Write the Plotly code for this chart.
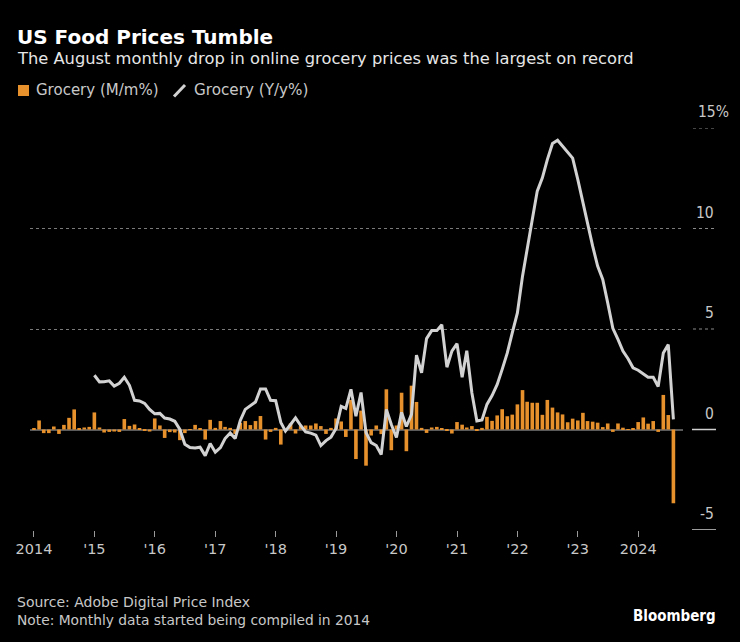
import pandas as pd
import plotly.graph_objects as go

# ---------------- data ----------------
mom_2014 = [0.05, 0.45, -0.18, -0.18, 0.15, -0.22, 0.23, 0.58, 1.0, 0.03, 0.1, 0.13]
mom_2015 = [0.85, 0.1, -0.15, -0.12, -0.1, -0.12, 0.52, 0.18, 0.25, 0.03, -0.07, -0.1]
mom_2016 = [0.55, 0.2, -0.42, -0.13, -0.15, -0.53, -0.18, 0.02, 0.23, 0.06, -0.5, 0.48]
mom_2017 = [0.08, 0.42, 0.13, 0.08, -0.22, 0.33, 0.42, 0.22, 0.42, 0.67, -0.5, -0.12]
mom_2018 = [0.08, -0.75, 0.02, 0.3, -0.2, 0.17, 0.2, 0.2, 0.3, 0.17, -0.22, 0.08]
mom_2019 = [0.55, 0.4, -0.37, 1.47, -1.47, 0.94, -1.8, -0.3, 0.2, -0.23, 2.0, -1.03]
mom_2020 = [0.2, 1.83, -1.08, 2.18, 1.37, 0.08, -0.17, 0.1, 0.13, 0.07, -0.06, -0.2]
mom_2021 = [0.37, 0.24, 0.1, 0.17, -0.04, 0.08, 0.63, 0.43, 0.7, 1.01, 0.66, 0.74]
mom_2022 = [1.25, 1.96, 1.38, 1.33, 1.33, 0.73, 1.47, 1.09, 0.85, 0.75, 0.36, 0.54]
mom_2023 = [0.45, 0.83, 0.42, 0.39, 0.34, 0.12, 0.3, -0.12, 0.3, 0.09, -0.02, 0.07]
mom_2024 = [0.37, 0.6, 0.29, 0.42, -0.12, 1.72, 0.72, -3.67]

yoy_2015 = [2.7, 2.37, 2.38, 2.42, 2.16, 2.3, 2.6, 2.2, 1.45, 1.42, 1.3, 1.0]
yoy_2016 = [0.78, 0.8, 0.57, 0.52, 0.41, 0.0, -0.73, -0.9, -0.92, -0.88, -1.3, -0.7]
yoy_2017 = [-1.13, -0.9, -0.45, -0.17, -0.45, 0.45, 1.0, 1.2, 1.37, 2.02, 2.02, 1.45]
yoy_2018 = [1.43, 0.35, -0.08, 0.25, 0.58, 0.2, -0.12, -0.18, -0.28, -0.8, -0.55, -0.38]
yoy_2019 = [0.05, 1.15, 1.05, 2.0, 0.66, 1.84, -0.15, -0.65, -0.8, -1.25, 1.0, 0.25]
yoy_2020 = [-0.4, 0.85, 0.15, 0.75, 3.7, 2.82, 4.52, 4.92, 4.92, 5.21, 3.1, 3.9]
yoy_2021 = [4.27, 2.6, 3.92, 1.82, 0.43, 0.48, 1.25, 1.69, 2.24, 2.99, 3.81, 4.81]
yoy_2022 = [5.8, 7.63, 9.04, 10.45, 11.86, 12.52, 13.43, 14.23, 14.39, 14.1, 13.76, 13.5]
yoy_2023 = [12.44, 11.28, 10.12, 9.12, 8.13, 7.46, 6.3, 5.03, 4.48, 3.9, 3.52, 3.07]
yoy_2024 = [2.95, 2.75, 2.6, 2.6, 2.14, 3.81, 4.23, 0.5]

tick_years = [2014, 2015, 2016, 2017, 2018, 2019, 2020, 2021, 2022, 2023, 2024]
tick_text = ["2014", "'15", "'16", "'17", "'18", "'19", "'20", "'21", "'22", "'23", "2024"]
y_ticks = [15, 10, 5, 0, -5]
y_tick_text = ["15%", "10", "5", "0", "-5"]

mom = (mom_2014 + mom_2015 + mom_2016 + mom_2017 + mom_2018 + mom_2019 +
       mom_2020 + mom_2021 + mom_2022 + mom_2023 + mom_2024)
yoy = (yoy_2015 + yoy_2016 + yoy_2017 + yoy_2018 + yoy_2019 + yoy_2020 +
       yoy_2021 + yoy_2022 + yoy_2023 + yoy_2024)
mom_dates = pd.date_range("2014-01-01", periods=len(mom), freq="MS")
yoy_dates = pd.date_range("2015-01-01", periods=len(yoy), freq="MS")

# ---------------- styling ----------------
W, H = 740, 642
PL, PR, PT, PB = 30, 683, 128, 530
FONT = "DejaVu Sans, sans-serif"
FONT_C = "DejaVu Sans Condensed, DejaVu Sans, sans-serif"
ORANGE = "#E6912C"
LINE = "#D2D2D2"
GREY_TXT = "#C8C8C8"


def xp(px):
    return (px - PL) / (PR - PL)


def yp(py):
    return (PB - py) / (PB - PT)


fig = go.Figure()
fig.add_trace(go.Bar(x=mom_dates, y=mom, marker=dict(color=ORANGE, line=dict(width=0)),
                     name="Grocery (M/m%)", showlegend=False))
fig.add_trace(go.Scatter(x=yoy_dates, y=yoy, mode="lines",
                         line=dict(color=LINE, width=3), name="Grocery (Y/y%)",
                         showlegend=False))

shapes = []
annotations = []

# right-side short guide lines
for v in [15, 10, 5]:
    shapes.append(dict(type="line", xref="paper", yref="y", x0=xp(693), x1=xp(715),
                       y0=v, y1=v, line=dict(color="#8a8a8a", width=1, dash="dot")))
for v in [0, -5]:
    shapes.append(dict(type="line", xref="paper", yref="y", x0=xp(692), x1=xp(716),
                       y0=v, y1=v, line=dict(color="#d0d0d0", width=1.5)))

for v, t in zip(y_ticks, y_tick_text):
    if t.endswith("%"):
        annotations.append(dict(xref="paper", yref="y", x=xp(696), y=v, text=t,
                                xanchor="left", yanchor="middle", yshift=16,
                                showarrow=False, font=dict(size=15.5, color=GREY_TXT, family=FONT_C)))
    else:
        annotations.append(dict(xref="paper", yref="y", x=xp(716), y=v, text=t,
                                xanchor="right", yanchor="middle", yshift=16,
                                showarrow=False, font=dict(size=15.5, color=GREY_TXT, family=FONT_C)))

# title & subtitle
annotations.append(dict(xref="paper", yref="paper", x=xp(15), y=yp(37), text="<b>US Food Prices Tumble</b>",
                        xanchor="left", yanchor="middle", showarrow=False,
                        font=dict(size=20, color="#FFFFFF", family=FONT)))
annotations.append(dict(xref="paper", yref="paper", x=xp(15), y=yp(58),
                        text="The August monthly drop in online grocery prices was the largest on record",
                        xanchor="left", yanchor="middle", showarrow=False,
                        font=dict(size=16.3, color="#E6E6E6", family=FONT)))

# legend
shapes.append(dict(type="rect", xref="paper", yref="paper", x0=xp(18), x1=xp(29), y0=yp(96), y1=yp(85),
                   fillcolor=ORANGE, line=dict(width=0)))
annotations.append(dict(xref="paper", yref="paper", x=xp(34), y=yp(90.5), text="Grocery (M/m%)",
                        xanchor="left", yanchor="middle", showarrow=False,
                        font=dict(size=15, color=GREY_TXT, family=FONT)))
shapes.append(dict(type="line", xref="paper", yref="paper", x0=xp(174), x1=xp(185), y0=yp(96.5), y1=yp(85),
                   line=dict(color=LINE, width=3)))
annotations.append(dict(xref="paper", yref="paper", x=xp(192), y=yp(90.5), text="Grocery (Y/y%)",
                        xanchor="left", yanchor="middle", showarrow=False,
                        font=dict(size=15.2, color=GREY_TXT, family=FONT)))

# footer
annotations.append(dict(xref="paper", yref="paper", x=xp(15), y=yp(602), text="Source: Adobe Digital Price Index",
                        xanchor="left", yanchor="middle", showarrow=False,
                        font=dict(size=14, color=GREY_TXT, family=FONT)))
annotations.append(dict(xref="paper", yref="paper", x=xp(15), y=yp(620),
                        text="Note: Monthly data started being compiled in 2014",
                        xanchor="left", yanchor="middle", showarrow=False,
                        font=dict(size=13.8, color=GREY_TXT, family=FONT)))
annotations.append(dict(xref="paper", yref="paper", x=xp(718), y=yp(616), text="<b>Bloomberg</b>",
                        xanchor="right", yanchor="middle", showarrow=False,
                        font=dict(size=15, color="#FFFFFF", family=FONT_C)))

fig.update_layout(
    width=W, height=H,
    margin=dict(l=PL, r=W - PR, t=PT, b=H - PB, pad=0),
    paper_bgcolor="#000000", plot_bgcolor="#000000",
    bargap=0.22,
    shapes=shapes, annotations=annotations,
    font=dict(family=FONT, color=GREY_TXT),
    showlegend=False,
)
fig.update_xaxes(
    type="date", range=["2013-12-08", "2024-09-28"],
    tickvals=[f"{y}-01-01" for y in tick_years], ticktext=tick_text,
    ticks="outside", ticklen=6, tickwidth=1, tickcolor="#9a9a9a",
    showgrid=False, showline=False, zeroline=False,
    tickfont=dict(size=14.5, color=GREY_TXT, family=FONT),
)
fig.update_yaxes(
    range=[-5, 15], tickvals=[5, 10, 15], showticklabels=False,
    showgrid=True, gridcolor="#7a7a7a", griddash="dot", gridwidth=1,
    zeroline=True, zerolinecolor="#5a5a5a", zerolinewidth=1.5,
    showline=False, ticks="",
)

fig.write_html("out.html")
